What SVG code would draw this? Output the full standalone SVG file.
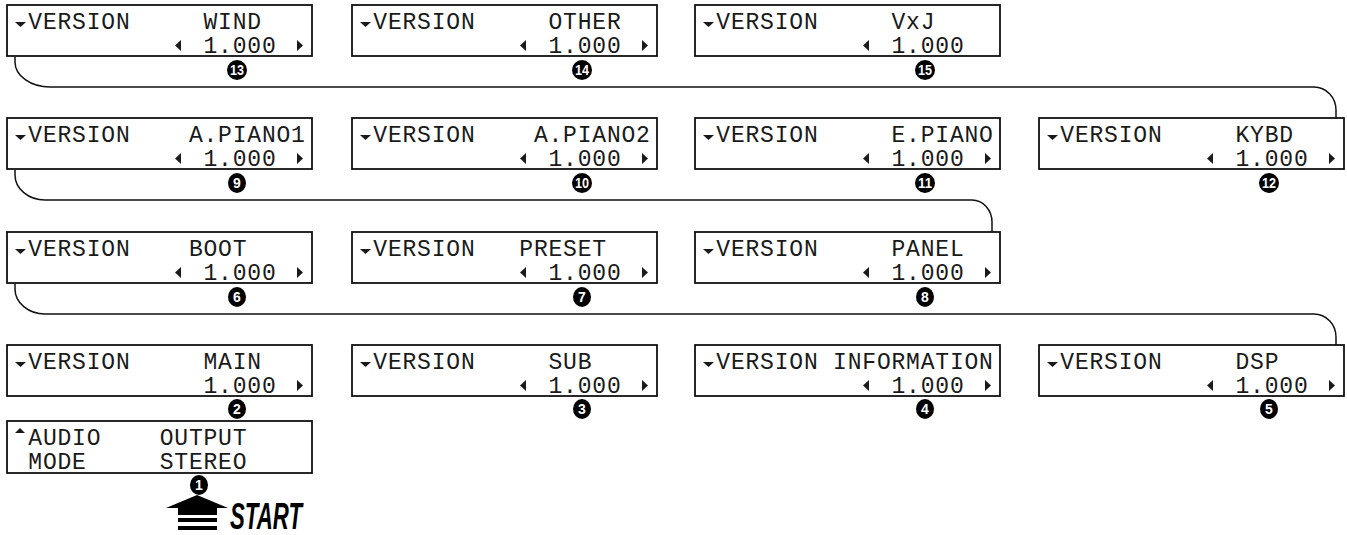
<svg xmlns="http://www.w3.org/2000/svg" xmlns:xlink="http://www.w3.org/1999/xlink" width="1347" height="535" viewBox="0 0 1347 535">
<style>
.box{fill:#fff;stroke:#111;stroke-width:1.8}
.lcd{font-family:"Liberation Mono","DejaVu Sans Mono",monospace;font-size:23px;letter-spacing:0.8px;fill:#1a1a1a}
.tri{fill:#1a1a1a}
.conn{fill:none;stroke:#111;stroke-width:1.5}
.num{fill:#000}
.nt{font-family:"Liberation Sans","DejaVu Sans",sans-serif;font-weight:bold;font-size:14px;fill:#fff;text-anchor:middle}
.start{font-family:"Liberation Sans","DejaVu Sans",sans-serif;font-weight:bold;font-style:italic;font-size:37px;fill:#000}
</style>
<defs>
<path id="down" d="M8,17 L19,17 L13.5,22 Z"/>
<path id="up" d="M8,12 L18,12 L13,7 Z"/>
<path id="left" d="M174,35 L174,46 L168,40.5 Z"/>
<path id="right" d="M290,35 L290,46 L296,40.5 Z"/>
</defs>

<g id="connectors">
<path class="conn" d="M15,57 L15,62 A35,25 0 0 0 50,87 L1314,87 A22,23 0 0 1 1336,110 L1336,118"/>
<path class="conn" d="M15,170 L15,175 A30,25 0 0 0 45,200 L972,200 A20,22 0 0 1 992,222 L992,232"/>
<path class="conn" d="M15,284 L15,289 A30,25 0 0 0 45,314 L1314,314 A22,23 0 0 1 1336,337 L1336,345"/>
</g>

<!-- Row 1 -->
<g id="wind" transform="translate(7,5)">
<rect class="box" x="0" y="0" width="305" height="51"/>
<use href="#down" class="tri"/>
<text class="lcd" x="21.3" y="24">VERSION</text>
<text class="lcd" x="196.5" y="24">WIND</text>
<use href="#left" class="tri"/><text class="lcd" x="196.5" y="48">1.000</text><use href="#right" class="tri"/>
<ellipse class="num" cx="230" cy="65" rx="10" ry="10"/><text class="nt" x="230" y="70" textLength="14" lengthAdjust="spacingAndGlyphs">13</text>
</g>
<g id="other" transform="translate(352,5)">
<rect class="box" x="0" y="0" width="305" height="51"/>
<use href="#down" class="tri"/>
<text class="lcd" x="21.3" y="24">VERSION</text>
<text class="lcd" x="196.5" y="24">OTHER</text>
<use href="#left" class="tri"/><text class="lcd" x="196.5" y="48">1.000</text><use href="#right" class="tri"/>
<ellipse class="num" cx="230" cy="65" rx="10" ry="10"/><text class="nt" x="230" y="70" textLength="14" lengthAdjust="spacingAndGlyphs">14</text>
</g>
<g id="vxj" transform="translate(695,5)">
<rect class="box" x="0" y="0" width="305" height="51"/>
<use href="#down" class="tri"/>
<text class="lcd" x="21.3" y="24">VERSION</text>
<text class="lcd" x="196.5" y="24">VxJ</text>
<use href="#left" class="tri"/><text class="lcd" x="196.5" y="48">1.000</text>
<ellipse class="num" cx="230" cy="65" rx="10" ry="10"/><text class="nt" x="230" y="70" textLength="14" lengthAdjust="spacingAndGlyphs">15</text>
</g>

<!-- Row 2 -->
<g id="apiano1" transform="translate(7,118)">
<rect class="box" x="0" y="0" width="305" height="51"/>
<use href="#down" class="tri"/>
<text class="lcd" x="21.3" y="24">VERSION</text>
<text class="lcd" x="181.9" y="24">A.PIANO1</text>
<use href="#left" class="tri"/><text class="lcd" x="196.5" y="48">1.000</text><use href="#right" class="tri"/>
<ellipse class="num" cx="230" cy="65" rx="9" ry="10"/><text class="nt" x="230" y="70">9</text>
</g>
<g id="apiano2" transform="translate(352,118)">
<rect class="box" x="0" y="0" width="305" height="51"/>
<use href="#down" class="tri"/>
<text class="lcd" x="21.3" y="24">VERSION</text>
<text class="lcd" x="181.9" y="24">A.PIANO2</text>
<use href="#left" class="tri"/><text class="lcd" x="196.5" y="48">1.000</text><use href="#right" class="tri"/>
<ellipse class="num" cx="230" cy="65" rx="10" ry="10"/><text class="nt" x="230" y="70" textLength="14" lengthAdjust="spacingAndGlyphs">10</text>
</g>
<g id="epiano" transform="translate(695,118)">
<rect class="box" x="0" y="0" width="305" height="51"/>
<use href="#down" class="tri"/>
<text class="lcd" x="21.3" y="24">VERSION</text>
<text class="lcd" x="196.5" y="24">E.PIANO</text>
<use href="#left" class="tri"/><text class="lcd" x="196.5" y="48">1.000</text><use href="#right" class="tri"/>
<ellipse class="num" cx="230" cy="65" rx="10" ry="10"/><text class="nt" x="230" y="70" textLength="14" lengthAdjust="spacingAndGlyphs">11</text>
</g>
<g id="kybd" transform="translate(1039,118)">
<rect class="box" x="0" y="0" width="305" height="51"/>
<use href="#down" class="tri"/>
<text class="lcd" x="21.3" y="24">VERSION</text>
<text class="lcd" x="196.5" y="24">KYBD</text>
<use href="#left" class="tri"/><text class="lcd" x="196.5" y="48">1.000</text><use href="#right" class="tri"/>
<ellipse class="num" cx="230" cy="65" rx="10" ry="10"/><text class="nt" x="230" y="70" textLength="14" lengthAdjust="spacingAndGlyphs">12</text>
</g>

<!-- Row 3 -->
<g id="boot" transform="translate(7,232)">
<rect class="box" x="0" y="0" width="305" height="51"/>
<use href="#down" class="tri"/>
<text class="lcd" x="21.3" y="24">VERSION</text>
<text class="lcd" x="181.9" y="24">BOOT</text>
<use href="#left" class="tri"/><text class="lcd" x="196.5" y="48">1.000</text><use href="#right" class="tri"/>
<ellipse class="num" cx="230" cy="65" rx="9" ry="10"/><text class="nt" x="230" y="70">6</text>
</g>
<g id="preset" transform="translate(352,232)">
<rect class="box" x="0" y="0" width="305" height="51"/>
<use href="#down" class="tri"/>
<text class="lcd" x="21.3" y="24">VERSION</text>
<text class="lcd" x="167.3" y="24">PRESET</text>
<use href="#left" class="tri"/><text class="lcd" x="196.5" y="48">1.000</text><use href="#right" class="tri"/>
<ellipse class="num" cx="230" cy="65" rx="9" ry="10"/><text class="nt" x="230" y="70">7</text>
</g>
<g id="panel" transform="translate(695,232)">
<rect class="box" x="0" y="0" width="305" height="51"/>
<use href="#down" class="tri"/>
<text class="lcd" x="21.3" y="24">VERSION</text>
<text class="lcd" x="196.5" y="24">PANEL</text>
<use href="#left" class="tri"/><text class="lcd" x="196.5" y="48">1.000</text><use href="#right" class="tri"/>
<ellipse class="num" cx="230" cy="65" rx="9" ry="10"/><text class="nt" x="230" y="70">8</text>
</g>

<!-- Row 4 -->
<g id="main" transform="translate(7,345)">
<rect class="box" x="0" y="0" width="305" height="51"/>
<use href="#down" class="tri"/>
<text class="lcd" x="21.3" y="24">VERSION</text>
<text class="lcd" x="196.5" y="24">MAIN</text>
<text class="lcd" x="196.5" y="48">1.000</text><use href="#right" class="tri"/>
<ellipse class="num" cx="230" cy="64" rx="9" ry="10"/><text class="nt" x="230" y="69">2</text>
</g>
<g id="sub" transform="translate(352,345)">
<rect class="box" x="0" y="0" width="305" height="51"/>
<use href="#down" class="tri"/>
<text class="lcd" x="21.3" y="24">VERSION</text>
<text class="lcd" x="196.5" y="24">SUB</text>
<use href="#left" class="tri"/><text class="lcd" x="196.5" y="48">1.000</text><use href="#right" class="tri"/>
<ellipse class="num" cx="230" cy="64" rx="9" ry="10"/><text class="nt" x="230" y="69">3</text>
</g>
<g id="information" transform="translate(695,345)">
<rect class="box" x="0" y="0" width="305" height="51"/>
<use href="#down" class="tri"/>
<text class="lcd" x="21.3" y="24">VERSION</text>
<text class="lcd" x="138.1" y="24">INFORMATION</text>
<use href="#left" class="tri"/><text class="lcd" x="196.5" y="48">1.000</text><use href="#right" class="tri"/>
<ellipse class="num" cx="230" cy="64" rx="9" ry="10"/><text class="nt" x="230" y="69">4</text>
</g>
<g id="dsp" transform="translate(1039,345)">
<rect class="box" x="0" y="0" width="305" height="51"/>
<use href="#down" class="tri"/>
<text class="lcd" x="21.3" y="24">VERSION</text>
<text class="lcd" x="196.5" y="24">DSP</text>
<use href="#left" class="tri"/><text class="lcd" x="196.5" y="48">1.000</text><use href="#right" class="tri"/>
<ellipse class="num" cx="230" cy="64" rx="9" ry="10"/><text class="nt" x="230" y="69">5</text>
</g>

<!-- Audio output -->
<g id="audio" transform="translate(7,421)">
<rect class="box" x="0" y="0" width="305" height="52"/>
<use href="#up" class="tri"/>
<text class="lcd" x="21.3" y="24">AUDIO</text>
<text class="lcd" x="152.7" y="24">OUTPUT</text>
<text class="lcd" x="21.3" y="48">MODE</text>
<text class="lcd" x="152.7" y="48">STEREO</text>
</g>

<!-- Start -->
<g id="start">
<ellipse class="num" cx="199" cy="485" rx="9" ry="10"/><text class="nt" x="199" y="490">1</text>
<polygon points="197,495 166,508 228,508" fill="#000"/>
<rect x="178" y="508" width="39" height="7" fill="#000"/>
<rect x="178" y="518" width="39" height="4" fill="#000"/>
<rect x="178" y="526" width="39" height="4" fill="#000"/>
<text class="start" x="230" y="529" textLength="72" lengthAdjust="spacingAndGlyphs">START</text>
</g>
</svg>
